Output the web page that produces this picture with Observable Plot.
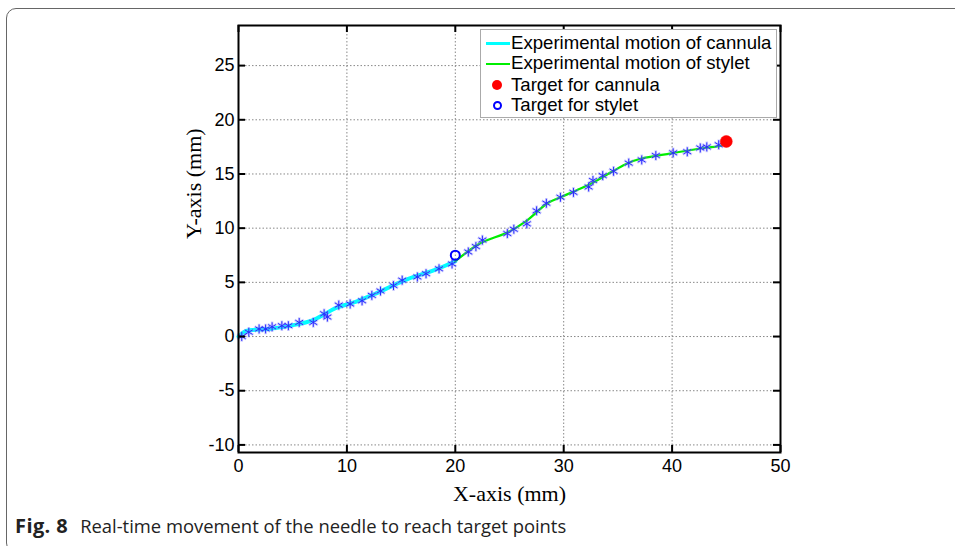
<!DOCTYPE html>
<html>
<head>
<meta charset="utf-8">
<script src="https://cdn.jsdelivr.net/npm/d3@7"></script>
<script src="https://cdn.jsdelivr.net/npm/@observablehq/plot@0.6"></script>
<style>
  html, body { margin: 0; padding: 0; background: #fff; overflow: hidden; }
  #wrap { position: relative; width: 955px; height: 546px; overflow: hidden; }
  #frame { position: absolute; left: 6px; top: 8px; width: 1000px; height: 545px; border: 1px solid #666; border-radius: 10px; box-sizing: border-box; }
  #chart { position: absolute; left: 0; top: 0; }
  #legend { position: absolute; left: 480px; top: 29px; width: 297px; height: 89px; background: #fff; border: 1px solid #aaa; box-sizing: border-box; font-family: "Liberation Sans", Arial, sans-serif; font-size: 18.6px; color: #000; }
  .item { position: absolute; left: 0; height: 20px; line-height: 20px; white-space: nowrap; }
  .item .txt { position: absolute; left: 30px; top: 0; }
  .item .ln { position: absolute; left: 5px; width: 24px; }
  .item .mk { position: absolute; border-radius: 50%; box-sizing: border-box; }
  #caption { position: absolute; left: 15px; top: 513px; line-height: 25px; font-family: "Open Sans", sans-serif; font-size: 18.4px; color: #222; white-space: nowrap; }
  #caption b { font-weight: 700; font-size: 20px; margin-right: 12px; letter-spacing: 0.4px; }
</style>
</head>
<body>
<div id="wrap">
  <div id="frame"></div>
  <div id="chart"></div>
  <div id="legend"></div>
  <div id="caption"><b>Fig. 8</b>Real-time movement of the needle to reach target points</div>
</div>
<script>
// ---- data ----
const xTicks = [0, 10, 20, 30, 40, 50];
const yTicks = [-10, -5, 0, 5, 10, 15, 20, 25];

const cannulaX = [0, 0.65, 2.8, 5.3, 6.8, 8.0, 8.9, 10.8, 12.5, 15.6, 18.0, 19.8, 20.0];
const cannulaY = [0, 0.5, 0.7, 1.1, 1.5, 2.1, 2.6, 3.2, 3.9, 5.3, 6.1, 6.85, 6.95];

const styletX = [20.0, 22.3, 24.8, 26.6, 28.5, 29.7, 31.2, 32.5, 34.6, 35.9, 37.1, 39.9, 42.9, 44.5, 45.0];
const styletY = [6.95, 8.6, 9.6, 10.7, 12.3, 12.85, 13.5, 14.1, 15.3, 16.0, 16.4, 16.9, 17.4, 17.6, 17.9];

const starX = [0.3, 0.95, 1.9, 2.5, 3.1, 4.0, 4.6, 5.6, 6.9, 7.9, 8.2, 9.25, 10.3, 11.4, 12.3, 13.1, 14.3, 15.1, 16.5, 17.3, 18.5, 19.7,
               21.2, 21.9, 22.5, 24.8, 25.4, 26.6, 27.5, 28.4, 29.7, 30.9, 32.3, 32.7, 33.6, 34.6, 36.0, 37.2, 38.5, 40.1, 41.4, 42.6, 43.2, 44.3];
const starY = [0.0, 0.4, 0.7, 0.7, 0.9, 1.0, 1.0, 1.3, 1.3, 2.1, 1.8, 2.9, 3.0, 3.3, 3.8, 4.2, 4.7, 5.2, 5.5, 5.8, 6.25, 6.7,
               7.8, 8.3, 8.9, 9.5, 9.9, 10.4, 11.6, 12.3, 12.85, 13.3, 13.8, 14.4, 14.85, 15.25, 16.0, 16.3, 16.7, 16.95, 17.05, 17.4, 17.5, 17.7];

const targetCannula = [{x: 45, y: 18}];
const targetStylet = [{x: 20, y: 7.5}];

const legendLabels = ["Experimental motion of cannula", "Experimental motion of stylet", "Target for cannula", "Target for stylet"];
const legendColors = ["#00ffff", "#00ee00", "#ff0000", "#0000ff"];

// ---- build ----
const cannula = cannulaX.map((x, i) => ({x, y: cannulaY[i]}));
const stylet = styletX.map((x, i) => ({x, y: styletY[i]}));
const stars = starX.map((x, i) => ({x, y: starY[i]}));

const xDom = [0, 50], yDom = [-10.7, 28.7];
const tx = 0.65, ty = 0.65;

const plot = Plot.plot({
  width: 955,
  height: 512,
  marginLeft: 238,
  marginRight: 175,
  marginTop: 25,
  marginBottom: 60,
  style: {fontFamily: "'Liberation Sans', Arial, sans-serif", fontSize: "18px", color: "#000", background: "transparent"},
  x: {domain: xDom, ticks: xTicks, tickSize: 0, tickPadding: 8, label: null, tickFormat: d => d},
  y: {domain: yDom, ticks: yTicks, tickSize: 0, tickPadding: 5, label: null, tickFormat: d => d},
  marks: [
    Plot.ruleX(xTicks.slice(1, -1), {x: d => d, y1: yDom[0], y2: yDom[1], stroke: "#888", strokeWidth: 1, strokeDasharray: "1.5,2"}),
    Plot.ruleY(yTicks, {y: d => d, x1: xDom[0], x2: xDom[1], stroke: "#888", strokeWidth: 1, strokeDasharray: "1.5,2"}),
    Plot.line(cannula, {x: "x", y: "y", stroke: "#00ffff", strokeWidth: 4, curve: "catmull-rom"}),
    Plot.line(stylet, {x: "x", y: "y", stroke: "#00ee00", strokeWidth: 2.2, curve: "catmull-rom"}),
    Plot.dot(stars, {x: "x", y: "y", symbol: "asterisk", r: 5, stroke: "#8888ff", strokeWidth: 2.6, strokeOpacity: 0.4}),
    Plot.dot(stars, {x: "x", y: "y", symbol: "asterisk", r: 4.2, stroke: "#2a2aff", strokeWidth: 1}),
    Plot.dot(targetCannula, {x: "x", y: "y", r: 6, fill: "#ff0000", stroke: "#ff0000", strokeWidth: 0.5}),
    Plot.dot(targetStylet, {x: "x", y: "y", r: 4.5, fill: "none", stroke: "#0000ff", strokeWidth: 2}),
    // inward tick marks on all four sides
    Plot.ruleX(xTicks, {x: d => d, y1: yDom[0], y2: yDom[0] + ty, stroke: "#000", strokeWidth: 2}),
    Plot.ruleX(xTicks, {x: d => d, y1: yDom[1] - ty, y2: yDom[1], stroke: "#000", strokeWidth: 2}),
    Plot.ruleY(yTicks, {y: d => d, x1: xDom[0], x2: xDom[0] + tx, stroke: "#000", strokeWidth: 2}),
    Plot.ruleY(yTicks, {y: d => d, x1: xDom[1] - tx, x2: xDom[1], stroke: "#000", strokeWidth: 2}),
    Plot.frame({stroke: "#000", strokeWidth: 2}),
    Plot.axisX({ticks: xTicks, tickSize: 0, tickPadding: 7, label: null, tickFormat: d => d, fontSize: 18}),
    Plot.axisY({ticks: yTicks, tickSize: 0, tickPadding: 4, label: null, tickFormat: d => d, fontSize: 18}),
    Plot.text(["X-axis (mm)"], {frameAnchor: "bottom", dy: 48, text: d => d, fontFamily: "'Liberation Serif', 'Times New Roman', serif", fontSize: 22}),
    Plot.text(["Y-axis (mm)"], {frameAnchor: "left", dx: -45, rotate: -90, text: d => d, fontFamily: "'Liberation Serif', 'Times New Roman', serif", fontSize: 22})
  ]
});
document.getElementById("chart").appendChild(plot);

// legend
const leg = document.getElementById("legend");
const rowTops = [3, 23, 45, 65];
legendLabels.forEach((lab, i) => {
  const it = document.createElement("div");
  it.className = "item";
  it.style.top = rowTops[i] + "px";
  let sw;
  if (i < 2) {
    sw = `<span class="ln" style="top:${i === 0 ? 9 : 9.5}px;height:${i === 0 ? 3 : 2}px;background:${legendColors[i]}"></span>`;
  } else if (i === 2) {
    sw = `<span class="mk" style="left:11px;top:5px;width:10px;height:10px;background:${legendColors[i]}"></span>`;
  } else {
    sw = `<span class="mk" style="left:12px;top:6px;width:9px;height:9px;border:2px solid ${legendColors[i]}"></span>`;
  }
  it.innerHTML = sw + `<span class="txt">${lab}</span>`;
  leg.appendChild(it);
});
</script>
</body>
</html>
